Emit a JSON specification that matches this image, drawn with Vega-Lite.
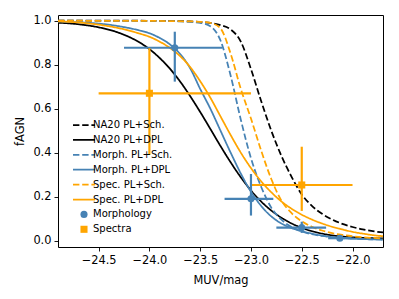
{
  "$schema": "https://vega.github.io/schema/vega-lite/v6.json",
  "width": 325,
  "height": 232,
  "autosize": {"type": "none"},
  "padding": {"left": 58, "top": 15, "right": 16, "bottom": 52},
  "background": "white",
  "config": {
    "view": {"stroke": "black", "strokeWidth": 1},
    "font": "DejaVu Sans",
    "axis": {
      "grid": false, "domain": false, "tickColor": "black", "tickSize": 4, "tickWidth": 0.9,
      "labelColor": "black", "labelFont": "DejaVu Sans", "labelFontSize": 11.4, "labelPadding": 3,
      "titleFont": "DejaVu Sans", "titleFontSize": 11.4, "titleFontWeight": "normal", "titleColor": "black"
    },
    "legend": {
      "orient": "none", "legendX": 21, "legendY": 105, "padding": 0,
      "symbolSize": 484, "labelFont": "DejaVu Sans", "labelFontSize": 10, "labelColor": "black",
      "labelOffset": 4, "rowPadding": 4.9, "symbolStrokeWidth": 1.75
    }
  },
  "datasets": {
    "curves": [
      {"s": "NA20 PL+Sch.", "x": -24.9, "y": 1.0},
      {"s": "NA20 PL+Sch.", "x": -24.2, "y": 1.0},
      {"s": "NA20 PL+Sch.", "x": -23.8, "y": 0.999},
      {"s": "NA20 PL+Sch.", "x": -23.6, "y": 0.997},
      {"s": "NA20 PL+Sch.", "x": -23.5, "y": 0.994},
      {"s": "NA20 PL+Sch.", "x": -23.4, "y": 0.99},
      {"s": "NA20 PL+Sch.", "x": -23.3, "y": 0.98},
      {"s": "NA20 PL+Sch.", "x": -23.2, "y": 0.96},
      {"s": "NA20 PL+Sch.", "x": -23.1, "y": 0.905},
      {"s": "NA20 PL+Sch.", "x": -23.0, "y": 0.78},
      {"s": "NA20 PL+Sch.", "x": -22.9, "y": 0.635},
      {"s": "NA20 PL+Sch.", "x": -22.8, "y": 0.5},
      {"s": "NA20 PL+Sch.", "x": -22.7, "y": 0.385},
      {"s": "NA20 PL+Sch.", "x": -22.6, "y": 0.29},
      {"s": "NA20 PL+Sch.", "x": -22.5, "y": 0.21},
      {"s": "NA20 PL+Sch.", "x": -22.4, "y": 0.158},
      {"s": "NA20 PL+Sch.", "x": -22.3, "y": 0.122},
      {"s": "NA20 PL+Sch.", "x": -22.2, "y": 0.096},
      {"s": "NA20 PL+Sch.", "x": -22.1, "y": 0.076},
      {"s": "NA20 PL+Sch.", "x": -22.0, "y": 0.062},
      {"s": "NA20 PL+Sch.", "x": -21.9, "y": 0.051},
      {"s": "NA20 PL+Sch.", "x": -21.8, "y": 0.043},
      {"s": "NA20 PL+Sch.", "x": -21.7, "y": 0.037},

      {"s": "NA20 PL+DPL", "x": -24.9, "y": 0.991},
      {"s": "NA20 PL+DPL", "x": -24.7, "y": 0.984},
      {"s": "NA20 PL+DPL", "x": -24.5, "y": 0.970},
      {"s": "NA20 PL+DPL", "x": -24.3, "y": 0.945},
      {"s": "NA20 PL+DPL", "x": -24.1, "y": 0.902},
      {"s": "NA20 PL+DPL", "x": -24.0, "y": 0.871},
      {"s": "NA20 PL+DPL", "x": -23.9, "y": 0.831},
      {"s": "NA20 PL+DPL", "x": -23.8, "y": 0.783},
      {"s": "NA20 PL+DPL", "x": -23.7, "y": 0.725},
      {"s": "NA20 PL+DPL", "x": -23.6, "y": 0.658},
      {"s": "NA20 PL+DPL", "x": -23.5, "y": 0.585},
      {"s": "NA20 PL+DPL", "x": -23.4, "y": 0.508},
      {"s": "NA20 PL+DPL", "x": -23.3, "y": 0.430},
      {"s": "NA20 PL+DPL", "x": -23.2, "y": 0.356},
      {"s": "NA20 PL+DPL", "x": -23.1, "y": 0.288},
      {"s": "NA20 PL+DPL", "x": -23.0, "y": 0.228},
      {"s": "NA20 PL+DPL", "x": -22.9, "y": 0.178},
      {"s": "NA20 PL+DPL", "x": -22.8, "y": 0.137},
      {"s": "NA20 PL+DPL", "x": -22.7, "y": 0.104},
      {"s": "NA20 PL+DPL", "x": -22.6, "y": 0.078},
      {"s": "NA20 PL+DPL", "x": -22.5, "y": 0.058},
      {"s": "NA20 PL+DPL", "x": -22.4, "y": 0.043},
      {"s": "NA20 PL+DPL", "x": -22.3, "y": 0.032},
      {"s": "NA20 PL+DPL", "x": -22.2, "y": 0.024},
      {"s": "NA20 PL+DPL", "x": -22.0, "y": 0.015},
      {"s": "NA20 PL+DPL", "x": -21.7, "y": 0.010},

      {"s": "Morph. PL+Sch.", "x": -24.9, "y": 1.0},
      {"s": "Morph. PL+Sch.", "x": -24.0, "y": 0.999},
      {"s": "Morph. PL+Sch.", "x": -23.7, "y": 0.997},
      {"s": "Morph. PL+Sch.", "x": -23.6, "y": 0.995},
      {"s": "Morph. PL+Sch.", "x": -23.5, "y": 0.99},
      {"s": "Morph. PL+Sch.", "x": -23.4, "y": 0.975},
      {"s": "Morph. PL+Sch.", "x": -23.3, "y": 0.91},
      {"s": "Morph. PL+Sch.", "x": -23.2, "y": 0.75},
      {"s": "Morph. PL+Sch.", "x": -23.1, "y": 0.55},
      {"s": "Morph. PL+Sch.", "x": -23.0, "y": 0.375},
      {"s": "Morph. PL+Sch.", "x": -22.9, "y": 0.245},
      {"s": "Morph. PL+Sch.", "x": -22.8, "y": 0.15},
      {"s": "Morph. PL+Sch.", "x": -22.7, "y": 0.095},
      {"s": "Morph. PL+Sch.", "x": -22.6, "y": 0.062},
      {"s": "Morph. PL+Sch.", "x": -22.5, "y": 0.042},
      {"s": "Morph. PL+Sch.", "x": -22.4, "y": 0.029},
      {"s": "Morph. PL+Sch.", "x": -22.3, "y": 0.021},
      {"s": "Morph. PL+Sch.", "x": -22.2, "y": 0.015},
      {"s": "Morph. PL+Sch.", "x": -22.0, "y": 0.009},
      {"s": "Morph. PL+Sch.", "x": -21.7, "y": 0.005},

      {"s": "Morph. PL+DPL", "x": -24.9, "y": 0.996},
      {"s": "Morph. PL+DPL", "x": -24.7, "y": 0.993},
      {"s": "Morph. PL+DPL", "x": -24.5, "y": 0.987},
      {"s": "Morph. PL+DPL", "x": -24.3, "y": 0.975},
      {"s": "Morph. PL+DPL", "x": -24.1, "y": 0.956},
      {"s": "Morph. PL+DPL", "x": -24.0, "y": 0.943},
      {"s": "Morph. PL+DPL", "x": -23.9, "y": 0.922},
      {"s": "Morph. PL+DPL", "x": -23.8, "y": 0.893},
      {"s": "Morph. PL+DPL", "x": -23.7, "y": 0.85},
      {"s": "Morph. PL+DPL", "x": -23.6, "y": 0.785},
      {"s": "Morph. PL+DPL", "x": -23.5, "y": 0.69},
      {"s": "Morph. PL+DPL", "x": -23.4, "y": 0.60},
      {"s": "Morph. PL+DPL", "x": -23.3, "y": 0.50},
      {"s": "Morph. PL+DPL", "x": -23.2, "y": 0.40},
      {"s": "Morph. PL+DPL", "x": -23.1, "y": 0.305},
      {"s": "Morph. PL+DPL", "x": -23.0, "y": 0.222},
      {"s": "Morph. PL+DPL", "x": -22.9, "y": 0.158},
      {"s": "Morph. PL+DPL", "x": -22.8, "y": 0.11},
      {"s": "Morph. PL+DPL", "x": -22.7, "y": 0.078},
      {"s": "Morph. PL+DPL", "x": -22.6, "y": 0.057},
      {"s": "Morph. PL+DPL", "x": -22.5, "y": 0.043},
      {"s": "Morph. PL+DPL", "x": -22.4, "y": 0.032},
      {"s": "Morph. PL+DPL", "x": -22.3, "y": 0.023},
      {"s": "Morph. PL+DPL", "x": -22.2, "y": 0.016},
      {"s": "Morph. PL+DPL", "x": -22.1, "y": 0.012},
      {"s": "Morph. PL+DPL", "x": -22.0, "y": 0.009},
      {"s": "Morph. PL+DPL", "x": -21.7, "y": 0.005},

      {"s": "Spec. PL+Sch.", "x": -24.9, "y": 1.0},
      {"s": "Spec. PL+Sch.", "x": -24.0, "y": 0.999},
      {"s": "Spec. PL+Sch.", "x": -23.6, "y": 0.997},
      {"s": "Spec. PL+Sch.", "x": -23.5, "y": 0.995},
      {"s": "Spec. PL+Sch.", "x": -23.4, "y": 0.99},
      {"s": "Spec. PL+Sch.", "x": -23.3, "y": 0.965},
      {"s": "Spec. PL+Sch.", "x": -23.2, "y": 0.85},
      {"s": "Spec. PL+Sch.", "x": -23.1, "y": 0.69},
      {"s": "Spec. PL+Sch.", "x": -23.0, "y": 0.555},
      {"s": "Spec. PL+Sch.", "x": -22.9, "y": 0.41},
      {"s": "Spec. PL+Sch.", "x": -22.8, "y": 0.28},
      {"s": "Spec. PL+Sch.", "x": -22.7, "y": 0.182},
      {"s": "Spec. PL+Sch.", "x": -22.6, "y": 0.125},
      {"s": "Spec. PL+Sch.", "x": -22.5, "y": 0.088},
      {"s": "Spec. PL+Sch.", "x": -22.4, "y": 0.063},
      {"s": "Spec. PL+Sch.", "x": -22.3, "y": 0.046},
      {"s": "Spec. PL+Sch.", "x": -22.2, "y": 0.034},
      {"s": "Spec. PL+Sch.", "x": -22.1, "y": 0.026},
      {"s": "Spec. PL+Sch.", "x": -22.0, "y": 0.02},
      {"s": "Spec. PL+Sch.", "x": -21.7, "y": 0.01},

      {"s": "Spec. PL+DPL", "x": -24.9, "y": 0.997},
      {"s": "Spec. PL+DPL", "x": -24.7, "y": 0.992},
      {"s": "Spec. PL+DPL", "x": -24.5, "y": 0.982},
      {"s": "Spec. PL+DPL", "x": -24.3, "y": 0.966},
      {"s": "Spec. PL+DPL", "x": -24.1, "y": 0.942},
      {"s": "Spec. PL+DPL", "x": -24.0, "y": 0.927},
      {"s": "Spec. PL+DPL", "x": -23.9, "y": 0.905},
      {"s": "Spec. PL+DPL", "x": -23.8, "y": 0.877},
      {"s": "Spec. PL+DPL", "x": -23.7, "y": 0.84},
      {"s": "Spec. PL+DPL", "x": -23.6, "y": 0.79},
      {"s": "Spec. PL+DPL", "x": -23.5, "y": 0.725},
      {"s": "Spec. PL+DPL", "x": -23.4, "y": 0.65},
      {"s": "Spec. PL+DPL", "x": -23.3, "y": 0.565},
      {"s": "Spec. PL+DPL", "x": -23.2, "y": 0.48},
      {"s": "Spec. PL+DPL", "x": -23.1, "y": 0.40},
      {"s": "Spec. PL+DPL", "x": -23.0, "y": 0.33},
      {"s": "Spec. PL+DPL", "x": -22.9, "y": 0.27},
      {"s": "Spec. PL+DPL", "x": -22.8, "y": 0.22},
      {"s": "Spec. PL+DPL", "x": -22.7, "y": 0.178},
      {"s": "Spec. PL+DPL", "x": -22.6, "y": 0.145},
      {"s": "Spec. PL+DPL", "x": -22.5, "y": 0.118},
      {"s": "Spec. PL+DPL", "x": -22.4, "y": 0.096},
      {"s": "Spec. PL+DPL", "x": -22.3, "y": 0.078},
      {"s": "Spec. PL+DPL", "x": -22.2, "y": 0.063},
      {"s": "Spec. PL+DPL", "x": -22.1, "y": 0.051},
      {"s": "Spec. PL+DPL", "x": -22.0, "y": 0.04},
      {"s": "Spec. PL+DPL", "x": -21.9, "y": 0.032},
      {"s": "Spec. PL+DPL", "x": -21.8, "y": 0.025},
      {"s": "Spec. PL+DPL", "x": -21.7, "y": 0.02}
    ],
    "points": [
      {"s": "Morphology", "x": -23.75, "y": 0.877, "xlo": -24.25, "xhi": -23.28, "ylo": 0.723, "yhi": 0.95},
      {"s": "Morphology", "x": -23.0, "y": 0.19, "xlo": -23.26, "xhi": -22.78, "ylo": 0.114, "yhi": 0.303},
      {"s": "Morphology", "x": -22.5, "y": 0.059, "xlo": -22.75, "xhi": -22.26, "ylo": 0.035, "yhi": 0.086},
      {"s": "Morphology", "x": -22.125, "y": 0.011, "xlo": -22.24, "xhi": -22.01, "ylo": 0.002, "yhi": 0.02},
      {"s": "Spectra", "x": -24.0, "y": 0.67, "xlo": -24.5, "xhi": -23.0, "ylo": 0.39, "yhi": 0.875},
      {"s": "Spectra", "x": -22.5, "y": 0.253, "xlo": -23.0, "xhi": -22.0, "ylo": 0.135, "yhi": 0.427}
    ]
  },
  "encoding": {
    "color": {
      "field": "s", "type": "nominal",
      "scale": {
        "domain": ["NA20 PL+Sch.", "NA20 PL+DPL", "Morph. PL+Sch.", "Morph. PL+DPL", "Spec. PL+Sch.", "Spec. PL+DPL", "Morphology", "Spectra"],
        "range": ["#000000", "#000000", "#4682b4", "#4682b4", "#ffa500", "#ffa500", "#4682b4", "#ffa500"]
      },
      "legend": {
        "title": null,
        "encode": {
          "symbols": {
            "update": {
              "size": {"signal": "datum.value === 'Morphology' || datum.value === 'Spectra' ? 50 : 484"},
              "fill": {"signal": "datum.value === 'Morphology' ? '#4682b4' : datum.value === 'Spectra' ? '#ffa500' : 'transparent'"},
              "strokeWidth": {"signal": "datum.value === 'Morphology' || datum.value === 'Spectra' ? 0 : 1.75"}
            }
          }
        }
      }
    }
  },
  "layer": [
    {
      "data": {"name": "curves"},
      "mark": {"type": "line", "strokeWidth": 1.75, "interpolate": "monotone"},
      "encoding": {
        "x": {
          "field": "x", "type": "quantitative",
          "scale": {"domain": [-24.9, -21.7], "nice": false, "zero": false},
          "axis": {"values": [-24.5, -24, -23.5, -23, -22.5, -22], "format": ".1f", "title": "MUV/mag", "titlePadding": 9}
        },
        "y": {
          "field": "y", "type": "quantitative",
          "scale": {"domain": [-0.029, 1.026], "nice": false, "zero": false},
          "axis": {"values": [0, 0.2, 0.4, 0.6, 0.8, 1.0], "format": ".1f", "title": "fAGN", "titlePadding": 7}
        },
        "strokeDash": {
          "field": "s", "type": "nominal",
          "scale": {
            "domain": ["NA20 PL+Sch.", "NA20 PL+DPL", "Morph. PL+Sch.", "Morph. PL+DPL", "Spec. PL+Sch.", "Spec. PL+DPL", "Morphology", "Spectra"],
            "range": [[6.4, 2.8], [1, 0], [6.4, 2.8], [1, 0], [6.4, 2.8], [1, 0], [1, 0], [1, 0]]
          },
          "legend": {"title": null}
        }
      }
    },
    {
      "data": {"name": "points"},
      "mark": {"type": "rule", "strokeWidth": 2.2},
      "encoding": {
        "x": {"field": "xlo", "type": "quantitative"},
        "x2": {"field": "xhi"},
        "y": {"field": "y", "type": "quantitative"}
      }
    },
    {
      "data": {"name": "points"},
      "mark": {"type": "rule", "strokeWidth": 2.2},
      "encoding": {
        "x": {"field": "x", "type": "quantitative"},
        "y": {"field": "ylo", "type": "quantitative"},
        "y2": {"field": "yhi"}
      }
    },
    {
      "data": {"name": "points"},
      "mark": {"type": "point", "filled": true, "opacity": 1, "size": 50},
      "encoding": {
        "x": {"field": "x", "type": "quantitative"},
        "y": {"field": "y", "type": "quantitative"},
        "shape": {
          "field": "s", "type": "nominal",
          "scale": {
            "domain": ["NA20 PL+Sch.", "NA20 PL+DPL", "Morph. PL+Sch.", "Morph. PL+DPL", "Spec. PL+Sch.", "Spec. PL+DPL", "Morphology", "Spectra"],
            "range": ["stroke", "stroke", "stroke", "stroke", "stroke", "stroke", "circle", "square"]
          },
          "legend": {"title": null}
        }
      }
    }
  ]
}
